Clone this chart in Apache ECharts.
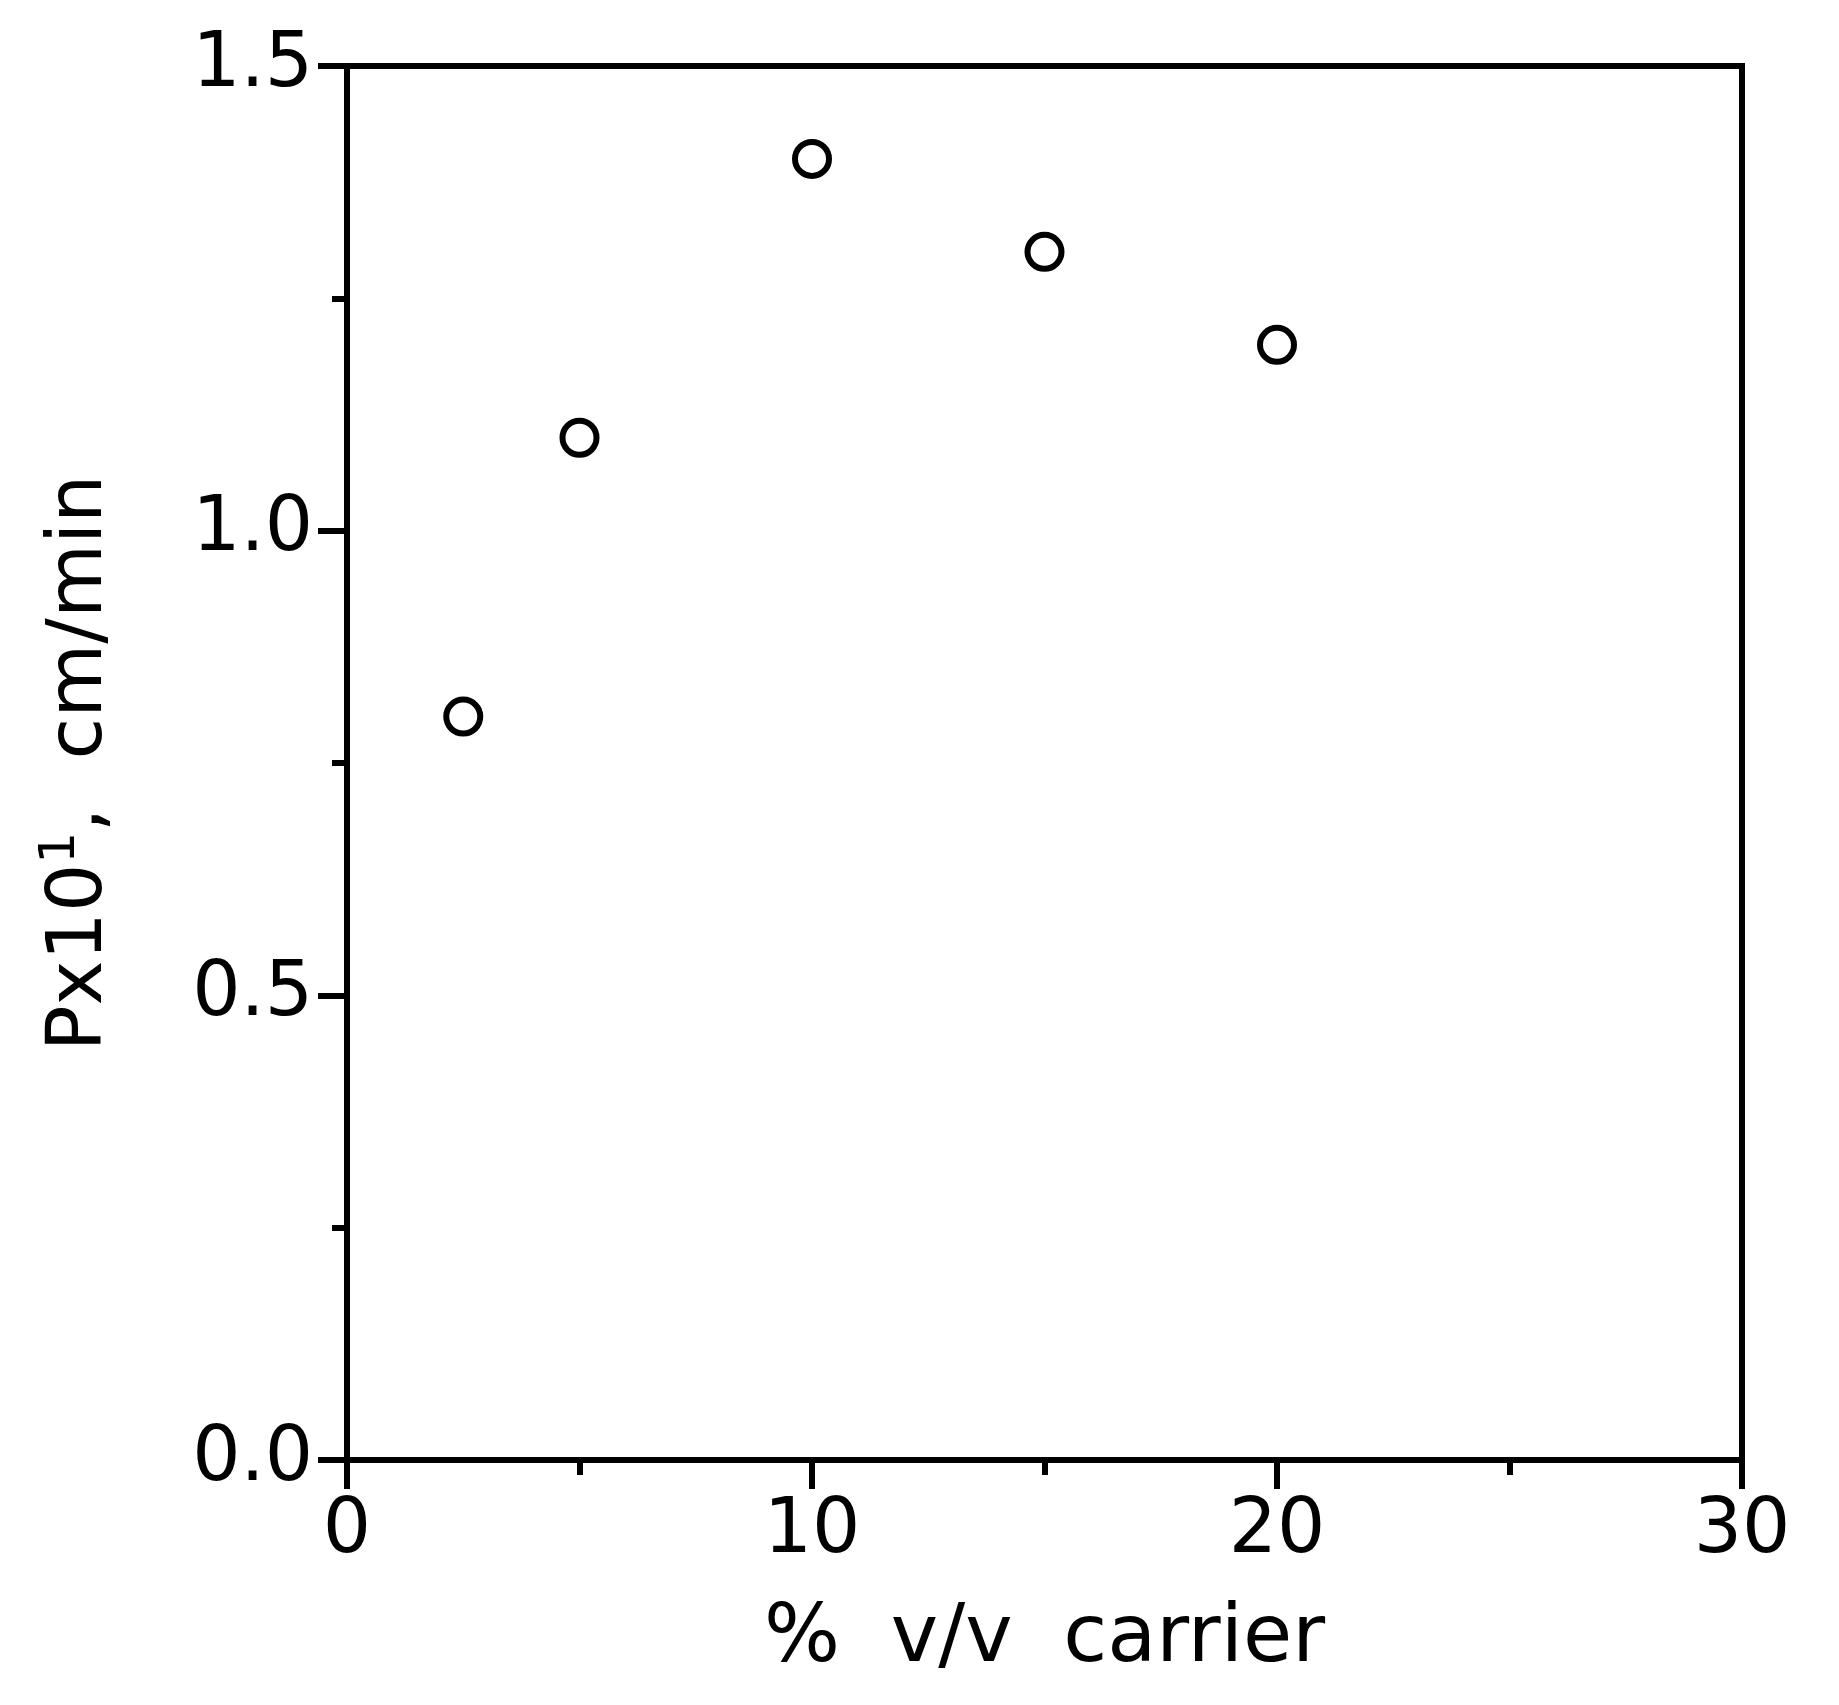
<!DOCTYPE html>
<html>
<head>
<meta charset="utf-8">
<script src="https://cdn.jsdelivr.net/npm/echarts@6/dist/echarts.min.js"></script>
<style>html,body{margin:0;padding:0;background:#fff;}#c{width:1839px;height:1705px;}</style>
</head>
<body>
<div id="c"></div>
<script>
const carrierPct = [2.5, 5, 10, 15, 20];
const pValues = [0.80, 1.10, 1.40, 1.30, 1.20];
const xTicks = [0, 10, 20, 30];
const yTicks = [0.0, 0.5, 1.0, 1.5];
const xName = '%  v/v  carrier';
const yName = 'Px10{sup|1},  cm/min';

const chart = echarts.init(document.getElementById('c'), null, {renderer: 'canvas'});
const tickFont = {fontFamily: 'DejaVu Sans', fontSize: 76, color: '#000'};
chart.setOption({
  backgroundColor: '#fff',
  animation: false,
  grid: {left: 347, right: 97, top: 66, bottom: 245, show: true, borderColor: '#000', borderWidth: 6, backgroundColor: 'transparent'},
  xAxis: {
    type: 'value', min: xTicks[0], max: xTicks[xTicks.length-1], interval: 10,
    name: xName, nameLocation: 'middle', nameGap: 140,
    nameTextStyle: {fontFamily: 'DejaVu Sans', fontSize: 80, color: '#000'},
    axisLine: {show: true, onZero: false, lineStyle: {color: '#000', width: 6}},
    axisTick: {show: true, inside: false, length: 29, lineStyle: {color: '#000', width: 6}},
    minorTick: {show: true, splitNumber: 2, length: 15, lineStyle: {color: '#000', width: 6}},
    splitLine: {show: false},
    axisLabel: Object.assign({margin: 34, formatter: v => String(v)}, tickFont)
  },
  yAxis: {
    type: 'value', min: yTicks[0], max: yTicks[yTicks.length-1], interval: 0.5,
    name: yName, nameLocation: 'middle', nameGap: 221, nameRotate: 90,
    nameTextStyle: {fontFamily: 'DejaVu Sans', fontSize: 76, color: '#000', lineHeight: 90,
      rich: {sup: {fontFamily: 'DejaVu Sans', fontSize: 50, color: '#000', verticalAlign: 'top', lineHeight: 60}}},
    axisLine: {show: true, onZero: false, lineStyle: {color: '#000', width: 6}},
    axisTick: {show: true, inside: false, length: 29, lineStyle: {color: '#000', width: 6}},
    minorTick: {show: true, splitNumber: 2, length: 15, lineStyle: {color: '#000', width: 6}},
    splitLine: {show: false},
    axisLabel: Object.assign({margin: 34, formatter: v => v.toFixed(1)}, tickFont)
  },
  series: [{
    type: 'scatter',
    data: carrierPct.map((x, i) => [x, pValues[i]]),
    symbol: 'circle', symbolSize: 34,
    itemStyle: {color: '#fff', borderColor: '#000', borderWidth: 6, opacity: 1}
  }]
});
</script>
</body>
</html>
